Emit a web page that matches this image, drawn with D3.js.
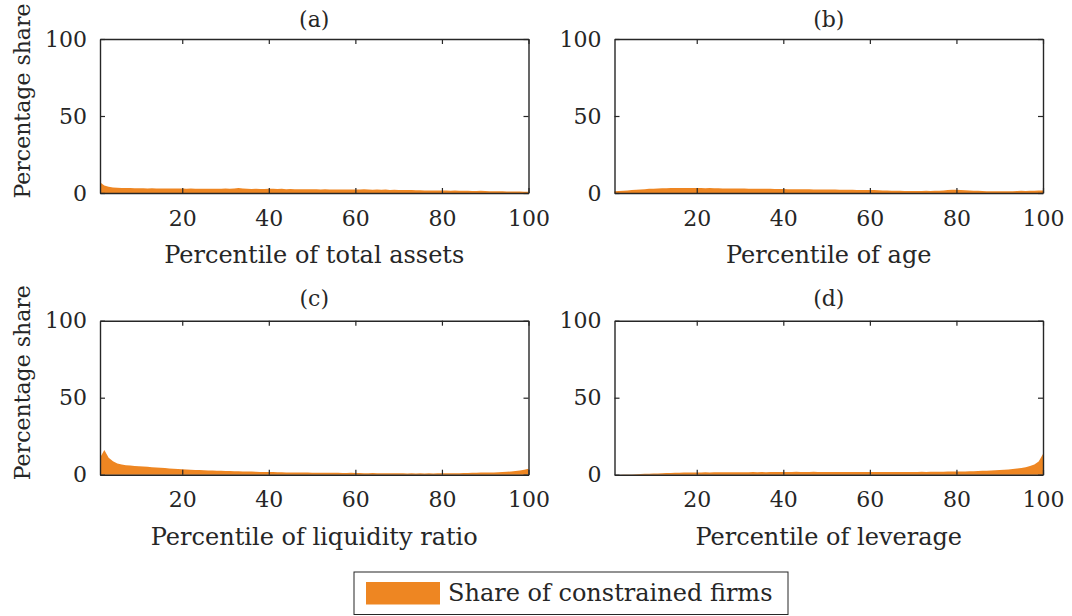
<!DOCTYPE html>
<html>
<head>
<meta charset="utf-8">
<script src="https://cdn.jsdelivr.net/npm/d3@7"></script>
<style>
  html, body { margin: 0; padding: 0; background: #fff; }
  svg { display: block; }
  text { font-family: "DejaVu Serif", "Liberation Serif", serif; fill: #262626; }
</style>
</head>
<body>
<svg id="chart" width="1072" height="616"></svg>
<script>
// ---- data ----
const percentiles = d3.range(1, 101);
const xTicks = [20, 40, 60, 80, 100];
const yTicks = [0, 50, 100];
const panelTitles = ["(a)", "(b)", "(c)", "(d)"];
const xLabels = ["Percentile of total assets", "Percentile of age",
                 "Percentile of liquidity ratio", "Percentile of leverage"];
const yLabel = "Percentage share";
const legendLabel = "Share of constrained firms";

const shareTotalAssets = [
  7.0,4.8,4.0,3.6,3.4,3.3,3.2,3.2,3.1,3.1,
  3.1,3.0,3.1,3.0,3.0,3.0,2.9,3.0,2.9,2.9,
  2.8,2.9,2.8,2.8,2.8,2.7,2.8,2.7,2.8,2.9,
  2.8,3.0,3.2,3.0,2.7,2.6,2.7,2.6,2.6,2.7,
  2.8,2.6,2.7,2.5,2.6,2.5,2.5,2.4,2.5,2.4,
  2.4,2.3,2.4,2.3,2.3,2.3,2.2,2.2,2.3,2.2,
  2.3,2.4,2.2,2.1,2.3,2.1,2.2,2.0,2.1,2.0,
  1.9,2.0,1.9,1.8,1.8,1.7,1.7,1.6,1.6,1.6,
  1.6,1.5,1.6,1.5,1.4,1.4,1.3,1.3,1.4,1.3,
  1.2,1.2,1.1,1.1,1.0,1.0,0.9,0.9,0.8,0.8
];
const shareAge = [
  1.1,1.3,1.5,1.7,1.9,2.1,2.3,2.5,2.7,2.8,
  3.0,3.1,3.1,3.2,3.2,3.3,3.2,3.3,3.2,3.2,
  3.2,3.1,3.2,3.1,3.1,3.0,3.0,3.0,2.9,2.9,
  2.9,2.8,2.8,2.8,2.7,2.7,2.7,2.6,2.6,2.6,
  2.5,2.5,2.5,2.4,2.4,2.4,2.3,2.3,2.3,2.2,
  2.2,2.2,2.1,2.1,2.1,2.1,2.0,2.0,2.0,2.0,
  1.9,1.8,1.7,1.6,1.5,1.4,1.4,1.3,1.3,1.3,
  1.3,1.3,1.4,1.3,1.4,1.5,1.7,1.9,2.1,2.1,
  2.0,1.8,1.7,1.5,1.4,1.3,1.2,1.2,1.1,1.1,
  1.1,1.2,1.2,1.3,1.4,1.3,1.4,1.5,1.6,1.7
];
const shareLiquidity = [
  11,16,11,8.7,7.2,6.6,6.2,5.9,5.7,5.5,
  5.3,5.1,4.9,4.7,4.5,4.3,4.1,3.9,3.7,3.5,
  3.3,3.2,3.1,3.0,2.9,2.8,2.7,2.6,2.5,2.4,
  2.4,2.3,2.2,2.1,2.0,2.0,1.9,1.8,1.8,1.7,
  1.7,1.6,1.6,1.5,1.5,1.5,1.4,1.4,1.4,1.3,
  1.3,1.3,1.2,1.2,1.3,1.2,1.1,1.1,1.2,1.1,
  1.1,1.0,1.0,1.1,1.0,1.0,0.9,0.9,1.0,0.9,
  0.9,0.8,0.9,0.8,0.9,0.8,0.9,0.8,0.9,0.9,
  0.9,0.9,1.0,1.0,1.1,1.1,1.2,1.3,1.4,1.4,
  1.5,1.5,1.6,1.7,1.9,2.1,2.4,2.8,3.2,3.8
];
const shareLeverage = [
  0.0,0.0,0.05,0.1,0.2,0.3,0.45,0.55,0.65,0.75,
  0.85,0.95,1.05,1.15,1.25,1.3,1.35,1.4,1.45,1.5,
  1.5,1.55,1.5,1.55,1.6,1.55,1.6,1.55,1.6,1.65,
  1.6,1.65,1.7,1.6,1.7,1.65,1.7,1.75,1.8,1.7,
  1.75,1.8,1.85,1.8,1.75,1.8,1.85,1.75,1.8,1.75,
  1.7,1.75,1.8,1.75,1.7,1.75,1.8,1.75,1.7,1.75,
  1.7,1.8,1.75,1.7,1.75,1.8,1.75,1.7,1.8,1.75,
  1.8,1.85,1.8,1.85,1.9,1.9,1.95,2.0,2.0,2.05,
  2.1,2.15,2.2,2.3,2.4,2.5,2.6,2.7,2.85,3.0,
  3.2,3.4,3.7,4.0,4.4,4.9,5.6,6.6,8.5,13.5
];
const seriesList = [shareTotalAssets, shareAge, shareLiquidity, shareLeverage];

// ---- layout ----
const fill = "#EE8622";
const axisColor = "#262626";
const colX = [100, 614.5];
const rowY = [39, 320.7];
const pw = 428.5, ph = 154;
const svg = d3.select("#chart");

seriesList.forEach((vals, i) => {
  const col = i % 2, row = Math.floor(i / 2);
  const x0 = colX[col], y0 = rowY[row];
  const x = d3.scaleLinear().domain([1, 100]).range([0, pw]);
  const y = d3.scaleLinear().domain([0, 100]).range([ph, 0]);
  const g = svg.append("g").attr("transform", `translate(${x0},${y0})`);

  const data = percentiles.map((p, k) => ({p, v: vals[k]}));
  g.append("path").datum(data)
    .attr("fill", fill)
    .attr("d", d3.area().x(d => x(d.p)).y0(y(0)).y1(d => y(d.v)));

  const xb = g.append("g").attr("transform", `translate(0,${ph})`)
    .call(d3.axisBottom(x).tickValues(xTicks).tickSizeInner(-5).tickSizeOuter(0).tickPadding(17));
  const xt = g.append("g")
    .call(d3.axisTop(x).tickValues(xTicks).tickSizeInner(-5).tickSizeOuter(0).tickFormat(""));
  const yl = g.append("g")
    .call(d3.axisLeft(y).tickValues(yTicks).tickSizeInner(-5).tickSizeOuter(0).tickPadding(13));
  const yr = g.append("g").attr("transform", `translate(${pw},0)`)
    .call(d3.axisRight(y).tickValues(yTicks).tickSizeInner(-5).tickSizeOuter(0).tickFormat(""));
  [xb, xt, yl, yr].forEach(a => {
    a.selectAll("path.domain").attr("stroke", axisColor).attr("stroke-width", 1.4);
    a.selectAll("line").attr("stroke", axisColor).attr("stroke-width", 1.2);
    a.selectAll("text").style("font-size", "22px").attr("fill", axisColor)
      .style("font-family", '"DejaVu Serif", serif');
  });

  g.append("text").attr("x", pw / 2).attr("y", row === 0 ? -12 : -15)
    .attr("text-anchor", "middle").style("font-size", "22px").text(panelTitles[i]);
  g.append("text").attr("x", pw / 2).attr("y", ph + 70)
    .attr("text-anchor", "middle").style("font-size", "24px").text(xLabels[i]);
  if (col === 0) {
    g.append("text")
      .attr("transform", `translate(${30 - x0},${ph / 2 - 15}) rotate(-90)`)
      .attr("text-anchor", "middle").style("font-size", "22px").text(yLabel);
  }
});

// legend
const leg = svg.append("g");
leg.append("rect").attr("x", 354).attr("y", 572).attr("width", 434).attr("height", 42.5)
  .attr("fill", "#fff").attr("stroke", axisColor).attr("stroke-width", 1);
leg.append("rect").attr("x", 366).attr("y", 582).attr("width", 74).attr("height", 22.5)
  .attr("fill", fill);
leg.append("text").attr("x", 448).attr("y", 601).style("font-size", "24px").text(legendLabel);
</script>
</body>
</html>
